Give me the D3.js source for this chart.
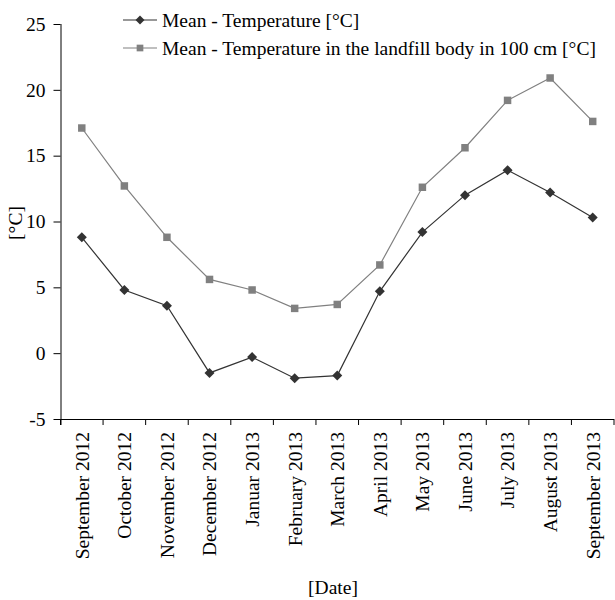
<!DOCTYPE html>
<html><head><meta charset="utf-8">
<script src="https://cdn.jsdelivr.net/npm/d3@7"></script>
<style>body{margin:0;background:#fff;} svg{display:block;}</style>
</head><body>
<svg id="c" width="615" height="600"></svg>
<script>
const months = ["September 2012","October 2012","November 2012","December 2012","Januar 2013","February 2013","March 2013","April 2013","May 2013","June 2013","July 2013","August 2013","September 2013"];
const meanTemp = [8.8, 4.8, 3.6, -1.5, -0.3, -1.9, -1.7, 4.7, 9.2, 12.0, 13.9, 12.2, 10.3];
const landfillTemp = [17.1, 12.7, 8.8, 5.6, 4.8, 3.4, 3.7, 6.7, 12.6, 15.6, 19.2, 20.9, 17.6];
const yTicks = [-5, 0, 5, 10, 15, 20, 25];
const seriesNames = ["Mean - Temperature [°C]", "Mean - Temperature in the landfill body in 100 cm [°C]"];

const svg = d3.select("#c");
const font = "'Liberation Serif','Times New Roman',serif";
const fs = 19.5;
const L = 60.5, R = 614, T = 24, B = 419;
const x = d3.scaleBand().domain(months).range([L, R]);
const y = d3.scaleLinear().domain([-5, 25]).range([B, T]);

// y axis
const ya = svg.append("g").attr("transform", `translate(${L},0)`)
  .call(d3.axisLeft(y).tickValues(yTicks).tickSize(7).tickPadding(8).tickSizeOuter(0).tickFormat(d => String(d)));
ya.select(".domain").attr("stroke", "#000").attr("d", `M0.5,${T}V${B + 6}`);
ya.selectAll("text").attr("font-family", font).attr("font-size", fs).attr("fill", "#000");

// x axis
const xa = svg.append("g").attr("transform", `translate(0,${B})`)
  .call(d3.axisBottom(x).tickSize(0).tickSizeOuter(0));
xa.select(".domain").attr("stroke", "#000").attr("d", `M${L},0.5H${R}`);
xa.selectAll(".tick line").remove();
const bounds = months.map(m => x(m)).concat([R]);
xa.selectAll("line.bt").data(bounds).enter().append("line")
  .attr("x1", d => d).attr("x2", d => d).attr("y1", 0).attr("y2", 6).attr("stroke", "#000");
xa.selectAll(".tick text")
  .attr("font-family", font).attr("font-size", fs).attr("fill", "#000")
  .attr("transform", "rotate(-90)").attr("text-anchor", "end")
  .attr("x", -13).attr("y", 0).attr("dy", "0.35em");

// axis titles
svg.append("text").attr("transform", `translate(15,223) rotate(-90)`)
  .attr("text-anchor", "middle").attr("dy", "0.35em")
  .attr("font-family", font).attr("font-size", fs).text("[°C]");
svg.append("text").attr("x", 333).attr("y", 594).attr("text-anchor", "middle")
  .attr("font-family", font).attr("font-size", fs).text("[Date]");

const cx = m => x(m) + x.bandwidth() / 2;
const line = d3.line().x((d, i) => cx(months[i])).y(d => y(d));

const series = [
  {vals: meanTemp, color: "#333333", sym: d3.symbolSquare, size: 50, rot: 45},
  {vals: landfillTemp, color: "#808080", sym: d3.symbolSquare, size: 56, rot: 0}
];
series.forEach(s => {
  svg.append("path").attr("d", line(s.vals)).attr("fill", "none").attr("stroke", s.color).attr("stroke-width", 1.2);
  svg.selectAll(null).data(s.vals).enter().append("path")
    .attr("d", d3.symbol().type(s.sym).size(s.size))
    .attr("transform", (d, i) => `translate(${cx(months[i])},${y(d)}) rotate(${s.rot})`)
    .attr("fill", s.color);
});

// legend
series.forEach((s, i) => {
  const ly = 20 + i * 28;
  svg.append("line").attr("x1", 123).attr("x2", 157).attr("y1", ly).attr("y2", ly).attr("stroke", s.color).attr("stroke-width", 1.2);
  svg.append("path").attr("d", d3.symbol().type(s.sym).size(s.size * 0.8)).attr("transform", `translate(140,${ly}) rotate(${s.rot})`).attr("fill", s.color);
  svg.append("text").attr("x", 162).attr("y", ly).attr("dy", "0.35em")
    .attr("font-family", font).attr("font-size", fs).attr("fill", "#000").text(seriesNames[i]);
});
</script>
</body></html>
